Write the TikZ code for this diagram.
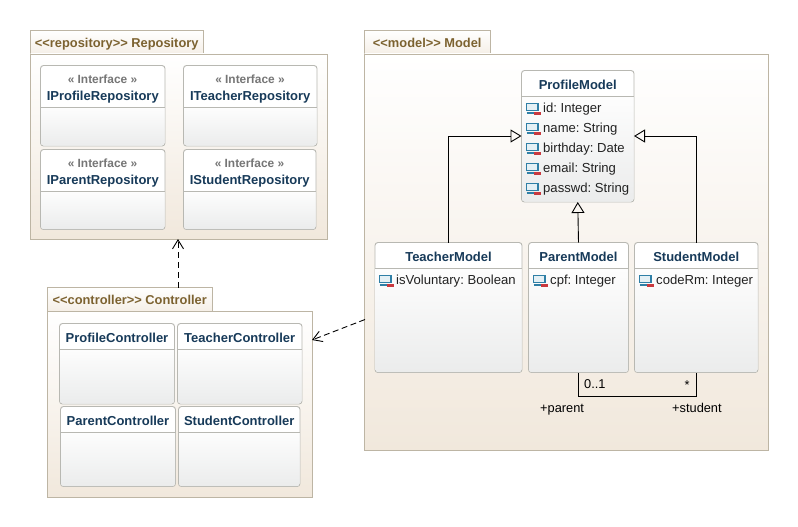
\documentclass[tikz,border=0pt]{standalone}
\usepackage{fontspec}
\setmainfont{Liberation Sans}
\frenchspacing
\usetikzlibrary{arrows.meta,calc}
\definecolor{titlecol}{HTML}{173A59}
\definecolor{pkgtext}{HTML}{7C6230}
\definecolor{pkgedge}{HTML}{BDB5A4}
\definecolor{pkgend}{HTML}{F1E8DC}
\definecolor{clsedge}{HTML}{B8B8B2}
\definecolor{clsend}{HTML}{EBECEC}
\definecolor{clstop}{HTML}{FDFDFD}
\definecolor{stereocol}{HTML}{767676}
\definecolor{attrcol}{HTML}{222222}
\definecolor{iconblue}{HTML}{2F7FA6}
\definecolor{iconfill}{HTML}{E4F0F5}
\definecolor{iconred}{HTML}{C8393F}
\tikzset{
  box/.style={rectangle,inner sep=0pt,outer sep=0pt},
  pkgbody/.style={box,draw=pkgedge,line width=.9pt,top color=white,bottom color=pkgend},
  pkgtab/.style={box,draw=pkgedge,line width=.9pt,top color=white,bottom color=pkgend!70!white},
  pkglabel/.style={inner sep=0pt,anchor=base,text=pkgtext,font=\fontsize{12.85}{14}\selectfont\bfseries},
  clsnode/.style={box,draw=clsedge,line width=.9pt,fill=white,rounded corners=3pt},
  clsrule/.style={draw=clsedge,line width=.8pt},
  clstitle/.style={inner sep=0pt,text=titlecol,font=\fontsize{13}{15}\selectfont\bfseries},
  stereo/.style={inner sep=0pt,text=stereocol,font=\fontsize{11.9}{13}\selectfont\bfseries},
  attr/.style={inner sep=0pt,anchor=base west,text=attrcol,font=\fontsize{13.1}{15}\selectfont},
  lbl/.style={inner sep=0pt,anchor=base west,text=black,font=\fontsize{12.8}{14}\selectfont},
  dep/.style={draw=black,line width=.9pt,dash pattern=on 6pt off 4pt,-{Straight Barb[length=9pt,width=11pt]}},
  inh/.style={draw=black,line width=.9pt,-{Triangle[open,length=11pt,width=13pt]}},
  assoc/.style={draw=black,line width=.9pt}
}
% name, x1, y1, tab right, tab bottom, x2, y2, label
\newcommand{\pkgbox}[8]{%
  \node[pkgtab,minimum width={#4-#2},minimum height={#5-#3}] (#1-tab) at ({(#2+#4)/2},{(#3+#5)/2}) {};
  \node[pkgbody,minimum width={#6-#2},minimum height={#7-#5}] (#1) at ({(#2+#6)/2},{(#5+#7)/2}) {};
  \node[pkglabel] (#1-label) at ({(#2+#4)/2},{#5-6.3}) {#8};
}
% name, x1, y1, x2, y2, ysep, title centre y, title
\newcommand{\clsbox}[8]{%
  \node[clsnode,minimum width={#4-#2},minimum height={#5-#3}] (#1) at ({(#2+#4)/2},{(#3+#5)/2}) {};
  \shade[top color=clstop,bottom color=clsend,rounded corners=0pt]
    ({#2+.5},#6) [rounded corners=2.5pt] -- ({#2+.5},{#5-.5}) -- ({#4-.5},{#5-.5}) [rounded corners=0pt] -- ({#4-.5},#6) -- cycle;
  \draw[clsrule] (#2,#6) -- (#4,#6);
  \node[clstitle] (#1-title) at ({(#2+#4)/2},#7) {#8};
}
% name, x, row centre y, text
\newcommand{\attrrow}[4]{%
  \draw[iconblue,line width=1.1pt,fill=iconfill] (#2+.5,#3-4.5) rectangle (#2+12,#3+2.5);
  \draw[iconblue,line width=1.1pt] (#2+.5,#3+5) -- (#2+8,#3+5);
  \fill[iconred] (#2+8,#3+4) rectangle (#2+14.5,#3+6.8);
  \node[attr] (#1) at (#2+17,#3+4.6) {#4};
}
\begin{document}
\begin{tikzpicture}[x=1pt,y=-1pt]
\useasboundingbox (0,0) rectangle (798,527);
\fill[white] (0,0) rectangle (798,527);

% Repository package
\pkgbox{repo}{30.5}{30.5}{203}{54}{327}{239}{<{}<repository>{}> Repository}
\clsbox{ipr}{40.5}{65.5}{165}{146}{107.5}{97.4}{IProfileRepository}
\node[stereo] (ipr-st) at (102.5,79) {« Interface »};
\clsbox{itr}{183.5}{65.5}{317}{146}{107.5}{97.4}{ITeacherRepository}
\node[stereo] (itr-st) at (250,79) {« Interface »};
\clsbox{ipa}{40.5}{149.5}{165}{229.5}{191.5}{181.4}{IParentRepository}
\node[stereo] (ipa-st) at (102.5,163) {« Interface »};
\clsbox{ist}{183.5}{149.5}{316}{229.5}{191.5}{181.4}{IStudentRepository}
\node[stereo] (ist-st) at (249.5,163) {« Interface »};

% Controller package
\pkgbox{ctrl}{47.5}{287.5}{212}{311}{312}{497}{<{}<controller>{}> Controller}
\clsbox{pc}{59.5}{323.5}{174.5}{404}{349.5}{338}{ProfileController}
\clsbox{tc}{177.5}{323.5}{302}{404}{349.5}{338}{TeacherController}
\clsbox{pac}{60.5}{406.5}{175.5}{486.5}{432.5}{421}{ParentController}
\clsbox{sc}{178.5}{406.5}{300}{486.5}{432.5}{421}{StudentController}

% Model package
\pkgbox{model}{364.5}{30.5}{490}{54}{768.5}{450}{<{}<model>{}> Model}
\clsbox{pm}{521.5}{70.5}{634}{202}{96.5}{84.5}{ProfileModel}
\attrrow{pm-id}{526}{108}{id: Integer}
\attrrow{pm-name}{526}{128}{name: String}
\attrrow{pm-birth}{526}{148}{birthday: Date}
\attrrow{pm-email}{526}{168}{email: String}
\attrrow{pm-pass}{526}{188}{passwd: String}
\clsbox{tm}{375}{242.5}{522}{372.5}{268.5}{256.5}{TeacherModel}
\attrrow{tm-vol}{379}{280}{isVoluntary: Boolean}
\clsbox{pam}{528.5}{242.5}{628.5}{372.5}{268.5}{256.5}{ParentModel}
\attrrow{pam-cpf}{533}{280}{cpf: Integer}
\clsbox{sm}{634.5}{242.5}{758}{372.5}{268.5}{256.5}{StudentModel}
\attrrow{sm-code}{639}{280}{codeRm: Integer}

% Connectors
\coordinate (upx) at (178,0);
\coordinate (inhy) at (0,136);
\draw[dep] (ctrl-tab.north -| upx) -- (repo.south -| upx);
\coordinate (mfrom) at (365,319.5);
\coordinate (cto) at (312,340);
\draw[dep,dash pattern=on 6pt off 3.5pt] (mfrom) -- (cto);
\draw[inh] (tm.north) |- (pm.west |- inhy);
\draw[inh] (sm.north) |- (pm.east |- inhy);
\draw[inh] (pam.north) -- (pm.south);
\draw[assoc] (pam.south) -- ++(0,24) -| (sm.south);

\node[lbl] (mult1) at (584,388.5) {0..1};
\node[lbl] (mult2) at (684.5,389) {*};
\node[lbl] (role1) at (540,412) {+parent};
\node[lbl] (role2) at (672,412) {+student};
\end{tikzpicture}
\end{document}
